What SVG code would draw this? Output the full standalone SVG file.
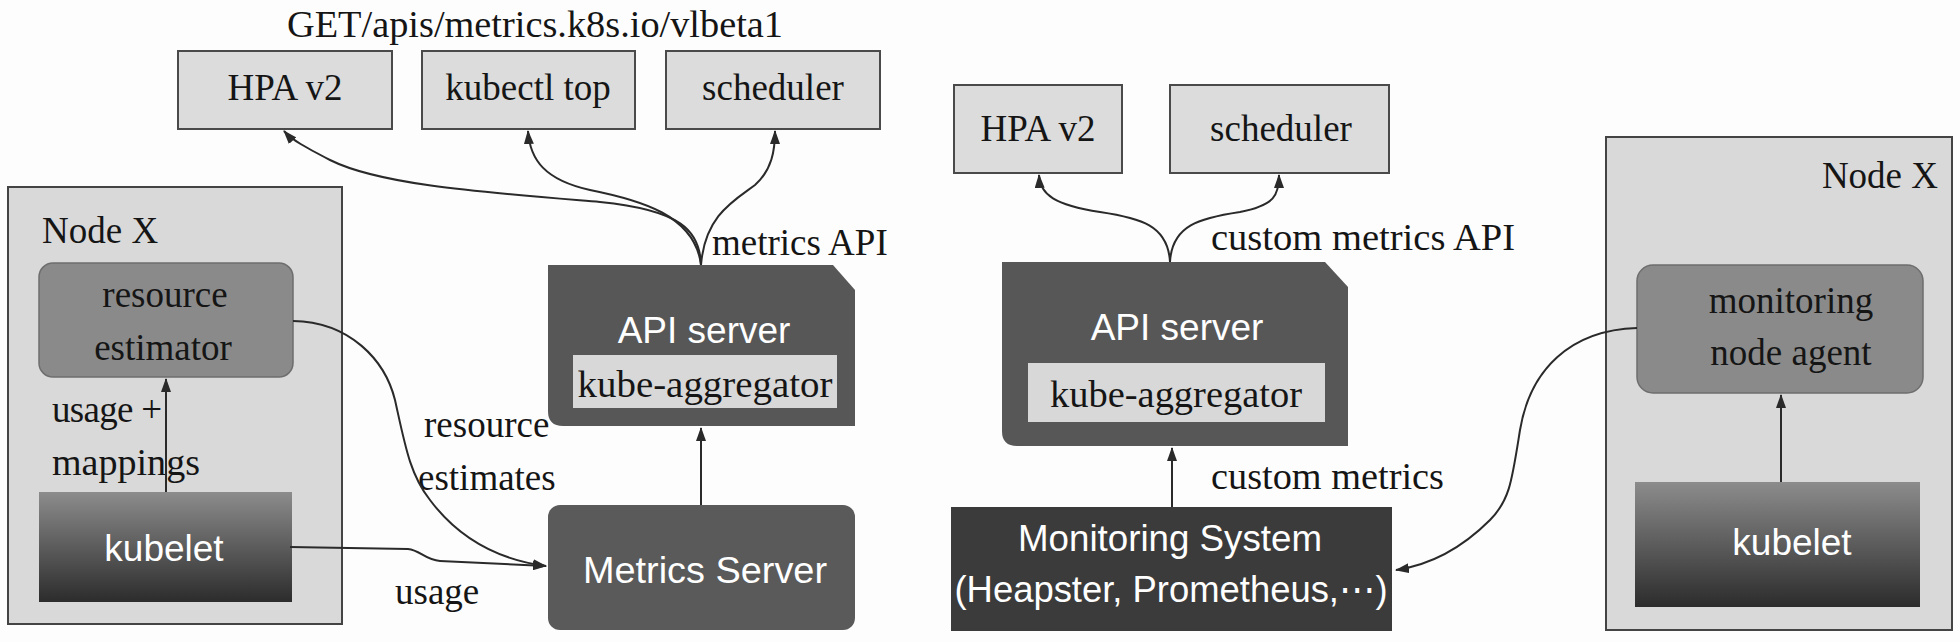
<svg xmlns="http://www.w3.org/2000/svg" width="1960" height="642" viewBox="0 0 1960 642">
<style>
.light{fill:#dcdcdc;stroke:#4a4a4a;stroke-width:2}
.node{fill:#d9d9d9;stroke:#444;stroke-width:2}
.est{fill:#8a8a8a;stroke:#6e6e6e;stroke-width:1.5}
.api{fill:#575757}
.inner{fill:#d8d8d8}
.serif{font-family:"Liberation Serif","Times New Roman",serif;font-size:37px;fill:#151515}
.sans{font-family:"Liberation Sans",Arial,sans-serif;font-size:37px;fill:#ffffff}
.mid{text-anchor:middle}
.conn{fill:none;stroke:#2a2a2a;stroke-width:2;marker-end:url(#arr)}
</style>
<defs>
<marker id="arr" markerUnits="userSpaceOnUse" markerWidth="14" markerHeight="10" refX="13" refY="5" orient="auto">
<path d="M0,0 L14,5 L0,10 Z" fill="#2a2a2a"/>
</marker>
<linearGradient id="kg" x1="0" y1="0" x2="0" y2="1">
<stop offset="0" stop-color="#8c8c8c"/>
<stop offset="1" stop-color="#2c2c2c"/>
</linearGradient>
</defs>
<rect width="1960" height="642" fill="#fdfdfd"/>

<text class="serif mid" x="535" y="37" textLength="496" lengthAdjust="spacingAndGlyphs">GET/apis/metrics.k8s.io/vlbeta1</text>

<g id="hpa-left">
<rect class="light" x="178" y="51" width="214" height="78"/>
<text class="serif mid" x="285" y="100">HPA v2</text>
</g>
<g id="kubectl-top">
<rect class="light" x="422" y="51" width="213" height="78"/>
<text class="serif mid" x="528" y="100">kubectl top</text>
</g>
<g id="scheduler-left">
<rect class="light" x="666" y="51" width="214" height="78"/>
<text class="serif mid" x="773" y="100">scheduler</text>
</g>

<g id="nodex-left">
<rect class="node" x="8" y="187" width="334" height="437"/>
<text class="serif" x="42" y="243">Node X</text>
</g>
<g id="resource-estimator">
<rect class="est" x="39" y="263" width="254" height="114" rx="14"/>
<text class="serif mid" x="165" y="307">resource</text>
<text class="serif mid" x="163" y="360">estimator</text>
</g>
<g id="kubelet-left">
<rect x="39" y="492" width="253" height="110" fill="url(#kg)"/>
<text class="sans mid" x="164" y="561">kubelet</text>
</g>

<g id="apiserver-left">
<path class="api" d="M548,265 L833,265 L855,290 L855,426 L563,426 Q548,426 548,411 Z"/>
<text class="sans mid" x="704" y="343">API server</text>
<rect class="inner" x="573" y="355" width="264" height="53"/>
<text class="serif mid" x="705" y="397" textLength="255" lengthAdjust="spacingAndGlyphs">kube-aggregator</text>
</g>
<g id="metrics-server">
<rect x="548" y="505" width="307" height="125" rx="12" fill="#5a5a5a"/>
<text class="sans mid" x="705" y="583" textLength="244" lengthAdjust="spacingAndGlyphs">Metrics Server</text>
</g>

<g id="hpa-right">
<rect class="light" x="954" y="85" width="168" height="88"/>
<text class="serif mid" x="1038" y="141">HPA v2</text>
</g>
<g id="scheduler-right">
<rect class="light" x="1170" y="85" width="219" height="88"/>
<text class="serif mid" x="1281" y="141">scheduler</text>
</g>

<g id="apiserver-right">
<path class="api" d="M1002,262 L1325,262 L1348,287 L1348,446 L1017,446 Q1002,446 1002,431 Z"/>
<text class="sans mid" x="1177" y="340">API server</text>
<rect class="inner" x="1028" y="363" width="297" height="59"/>
<text class="serif mid" x="1176" y="407" textLength="252" lengthAdjust="spacingAndGlyphs">kube-aggregator</text>
</g>
<g id="monitoring-system">
<rect x="951" y="507" width="441" height="124" fill="#3b3b3b"/>
<text class="sans mid" x="1170" y="551" textLength="304" lengthAdjust="spacingAndGlyphs">Monitoring System</text>
<text class="sans mid" x="1171" y="602" textLength="433" lengthAdjust="spacingAndGlyphs">(Heapster, Prometheus,⋯)</text>
</g>

<g id="nodex-right">
<rect class="node" x="1606" y="137" width="346" height="493"/>
<text class="serif" x="1938" y="188" text-anchor="end">Node X</text>
</g>
<g id="monitoring-node-agent">
<rect class="est" x="1637" y="265" width="286" height="128" rx="16"/>
<text class="serif mid" x="1791" y="313">monitoring</text>
<text class="serif mid" x="1791" y="365">node agent</text>
</g>
<g id="kubelet-right">
<rect x="1635" y="482" width="285" height="125" fill="url(#kg)"/>
<text class="sans mid" x="1792" y="555">kubelet</text>
</g>

<g id="labels">
<text class="serif" x="712" y="255">metrics API</text>
<text class="serif" x="424" y="437">resource</text>
<text class="serif" x="418" y="490">estimates</text>
<text class="serif" x="395" y="604">usage</text>
<text class="serif" x="52" y="422" textLength="110" lengthAdjust="spacing">usage +</text>
<text class="serif" x="52" y="475" textLength="148" lengthAdjust="spacingAndGlyphs">mappings</text>
<text class="serif" x="1211" y="250" textLength="304" lengthAdjust="spacingAndGlyphs">custom metrics API</text>
<text class="serif" x="1211" y="489" textLength="233" lengthAdjust="spacingAndGlyphs">custom metrics</text>
</g>

<g id="connectors">
<path class="conn" d="M701,265 C700,230 680,210 600,202 C480,192 380,185 330,160 C305,147 292,140 284,131"/>
<path class="conn" d="M701,265 C695,215 640,200 590,190 C545,180 530,160 528,131"/>
<path class="conn" d="M701,265 C705,215 735,200 755,185 C772,170 775,150 775,131"/>
<path class="conn" d="M701,505 L701,428"/>
<path class="conn" d="M166,492 L166,379"/>
<path class="conn" d="M293,321 C350,322 385,360 395,400 C405,445 410,475 430,500 C460,540 500,560 546,566"/>
<path class="conn" d="M290,547 L408,549 C420,550 425,560 440,561 L546,566"/>
<path class="conn" d="M1170,262 C1168,225 1140,218 1100,212 C1055,205 1040,195 1039,175"/>
<path class="conn" d="M1170,262 C1172,225 1200,218 1240,212 C1275,205 1279,195 1279,175"/>
<path class="conn" d="M1172,507 L1172,448"/>
<path class="conn" d="M1781,482 L1781,395"/>
<path class="conn" d="M1637,328 C1570,330 1530,370 1520,430 C1512,480 1510,500 1490,520 C1460,550 1430,565 1396,570"/>
</g>
</svg>
